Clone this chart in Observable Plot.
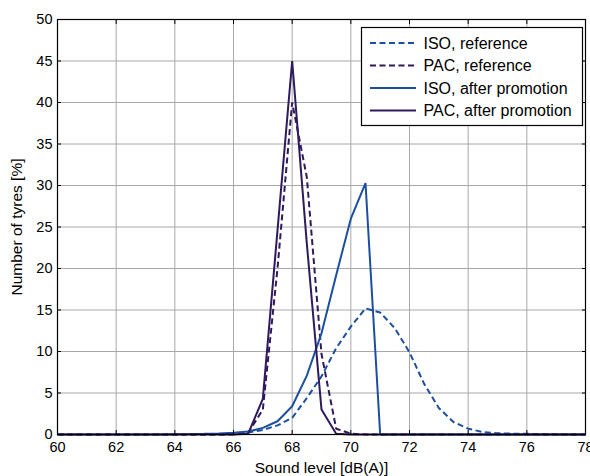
<!DOCTYPE html>
<html>
<head>
<meta charset="utf-8">
<script src="https://cdn.jsdelivr.net/npm/d3@7"></script>
<script src="https://cdn.jsdelivr.net/npm/@observablehq/plot@0.6"></script>
<style>
  html, body { margin: 0; padding: 0; background: white; }
  #chart { width: 590px; height: 476px; }
</style>
</head>
<body>
<div id="chart"></div>
<script>
// Sound level bins [dB(A)]
const level = [60, 60.5, 61, 61.5, 62, 62.5, 63, 63.5, 64, 64.5, 65, 65.5, 66, 66.5, 67, 67.5, 68, 68.5, 69, 69.5, 70, 70.5, 71, 71.5, 72, 72.5, 73, 73.5, 74, 74.5, 75, 75.5, 76, 76.5, 77, 77.5, 78];

// Number of tyres [%]
const isoReference = [0, 0, 0, 0, 0, 0, 0, 0, 0, 0, 0, 0, 0.1, 0.25, 0.55, 1.1, 2.0, 4.4, 7.0, 10.4, 13.0, 15.2, 14.7, 12.8, 9.9, 6.1, 3.2, 1.5, 0.7, 0.3, 0.15, 0.1, 0.08, 0.05, 0.03, 0, 0];
const pacReference = [0, 0, 0, 0, 0, 0, 0, 0, 0, 0, 0, 0, 0, 0.2, 3.0, 20.0, 40.0, 31.0, 9.7, 0.7, 0.1, 0, 0, 0, 0, 0, 0, 0, 0, 0, 0, 0, 0, 0, 0, 0, 0];
const isoAfter = [0, 0, 0, 0, 0, 0, 0, 0, 0.03, 0.05, 0.08, 0.12, 0.2, 0.35, 0.8, 1.6, 3.4, 7.1, 12.2, 19.2, 26.0, 30.3, 0, 0, 0, 0, 0, 0, 0, 0, 0, 0, 0, 0, 0, 0, 0];
const pacAfter = [0, 0, 0, 0, 0, 0, 0, 0, 0, 0, 0, 0, 0, 0.1, 4.3, 24.6, 45.0, 23.0, 3.0, 0.1, 0, 0, 0, 0, 0, 0, 0, 0, 0, 0, 0, 0, 0, 0, 0, 0, 0];

const seriesNames = ["ISO, reference", "PAC, reference", "ISO, after promotion", "PAC, after promotion"];
const seriesValues = [isoReference, pacReference, isoAfter, pacAfter];

const xTicks = [60, 62, 64, 66, 68, 70, 72, 74, 76, 78];
const yTicks = [0, 5, 10, 15, 20, 25, 30, 35, 40, 45, 50];

const ISO_COLOR = "#1c4f9e";
const PAC_COLOR = "#2e1a5c";
const styles = [
  {stroke: ISO_COLOR, dash: "6,3.5"},
  {stroke: PAC_COLOR, dash: "6,3.5"},
  {stroke: ISO_COLOR, dash: null},
  {stroke: PAC_COLOR, dash: null}
];

const rows = [];
seriesNames.forEach((name, s) => {
  level.forEach((x, i) => rows.push({series: name, level: x, value: seriesValues[s][i]}));
});

const lineMarks = seriesNames.map((name, s) =>
  Plot.line(rows.filter(d => d.series === name), {
    x: "level", y: "value",
    stroke: styles[s].stroke,
    strokeWidth: 2,
    strokeDasharray: styles[s].dash,
    strokeLinejoin: "miter",
    strokeLinecap: "butt"
  })
);

const plot = Plot.plot({
  width: 590,
  height: 476,
  marginLeft: 57,
  marginRight: 5,
  marginTop: 19,
  marginBottom: 42,
  style: {fontFamily: "'Liberation Sans', Arial, sans-serif", fontSize: "14.5px", background: "white", color: "black", overflow: "visible"},
  x: {domain: [60, 78]},
  y: {domain: [0, 50]},
  marks: [
    Plot.gridX(xTicks, {stroke: "#a8a8a8", strokeOpacity: 1}),
    Plot.gridY(yTicks, {stroke: "#a8a8a8", strokeOpacity: 1}),
    ...lineMarks,
    Plot.axisX(xTicks, {anchor: "bottom", tickSize: -4, tickPadding: 11, label: null, fontSize: 14.5}),
    Plot.axisX({anchor: "bottom", ticks: [], label: "Sound level [dB(A)]", labelAnchor: "center", labelOffset: 38, labelArrow: "none", fontSize: 15.5}),
    Plot.axisX(xTicks, {anchor: "top", tickSize: -4, tickFormat: () => "", label: null}),
    Plot.axisY(yTicks, {anchor: "left", tickSize: -4, tickPadding: 9, label: null, fontSize: 14.5}),
    Plot.axisY({anchor: "left", ticks: [], label: "Number of tyres [%]", labelAnchor: "center", labelOffset: 47, labelArrow: "none", fontSize: 15.5}),
    Plot.axisY(yTicks, {anchor: "right", tickSize: -4, tickFormat: () => "", label: null}),
    Plot.frame({stroke: "black", strokeWidth: 1.2})
  ]
});

document.getElementById("chart").appendChild(plot);

// Legend (Matlab-style box, inside the axes, top right)
const svg = d3.select(plot);
const lg = svg.append("g")
  .attr("font-family", "'Liberation Sans', Arial, sans-serif")
  .attr("font-size", 16)
  .attr("text-anchor", "start");
lg.append("rect").attr("x", 361.5).attr("y", 27.5).attr("width", 221).attr("height", 98)
  .attr("fill", "white").attr("stroke", "black").attr("stroke-width", 1.2);
const rowY = [43, 65.5, 88, 110.5];
seriesNames.forEach((name, s) => {
  lg.append("line").attr("x1", 370).attr("x2", 416).attr("y1", rowY[s]).attr("y2", rowY[s])
    .attr("stroke", styles[s].stroke).attr("stroke-width", 2)
    .attr("stroke-dasharray", styles[s].dash);
  lg.append("text").attr("x", 423.5).attr("y", rowY[s]).attr("dy", "0.35em")
    .attr("text-anchor", "start").attr("fill", "black").text(name);
});
</script>
</body>
</html>
